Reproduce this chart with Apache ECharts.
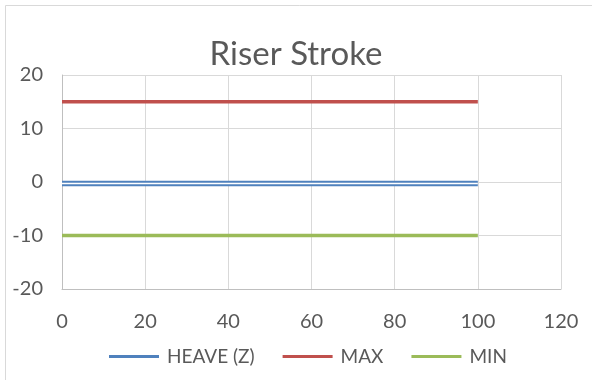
<!DOCTYPE html>
<html>
<head>
<meta charset="utf-8">
<script src="https://cdn.jsdelivr.net/npm/echarts@6/dist/echarts.min.js"></script>
<style>
  html, body { margin: 0; padding: 0; background: #fff; }
  #chart { width: 592px; height: 380px; }
</style>
</head>
<body>
<div id="chart"></div>
<script>
// Riser stroke: heave response against the allowed stroke limits
const xValues   = [0, 10, 20, 30, 40, 50, 60, 70, 80, 90, 100];
const heave     = [-0.3, -0.3, -0.3, -0.3, -0.3, -0.3, -0.3, -0.3, -0.3, -0.3, -0.3];
const maxStroke = [15, 15, 15, 15, 15, 15, 15, 15, 15, 15, 15];
const minStroke = [-10, -10, -10, -10, -10, -10, -10, -10, -10, -10, -10];
const seriesNames = ['HEAVE (Z)', 'MAX', 'MIN'];
const colors = ['#4F81BD', '#C0504D', '#9BBB59'];

const pairs = (ys) => xValues.map((x, i) => [x, ys[i]]);
const FONT = 'Lato, "Open Sans", sans-serif';
const TEXT = '#595959';

const chart = echarts.init(document.getElementById('chart'), null, { renderer: 'canvas' });

chart.setOption({
  animation: false,
  backgroundColor: '#ffffff',
  textStyle: { fontFamily: FONT },
  graphic: [{
    type: 'rect',
    shape: { x: 5.5, y: 5.5, width: 700, height: 500 },
    style: { fill: 'none', stroke: '#d9d9d9', lineWidth: 1 },
    silent: true,
    z: -10
  }],
  title: {
    text: 'Riser Stroke',
    left: 'center',
    top: 33,
    textStyle: { fontFamily: FONT, fontSize: 33, fontWeight: 'normal', color: TEXT }
  },
  legend: {
    data: seriesNames,
    left: 104,
    top: 342,
    icon: 'rect',
    itemWidth: 50,
    itemHeight: 3,
    itemGap: 28,
    textStyle: { fontFamily: FONT, fontSize: 19, color: TEXT, padding: [0, 0, 0, 3] }
  },
  grid: { left: 62, right: 31, top: 75, bottom: 91 },
  xAxis: [{
    type: 'value',
    min: 0, max: 120, interval: 20,
    axisLine: { show: false },
    axisTick: { show: false },
    axisLabel: { margin: 23, fontFamily: FONT, fontSize: 20, color: TEXT },
    splitLine: { show: true, lineStyle: { color: '#d9d9d9', width: 1 } }
  }, {
    // zero line of the horizontal axis
    type: 'value',
    min: 0, max: 120, interval: 20,
    position: 'bottom',
    axisLine: { show: true, onZero: true, lineStyle: { color: '#bfbfbf', width: 1 } },
    axisTick: { show: false },
    axisLabel: { show: false },
    splitLine: { show: false }
  }],
  yAxis: {
    type: 'value',
    min: -20, max: 20, interval: 10,
    axisLine: { show: true, lineStyle: { color: '#bfbfbf', width: 1 } },
    axisTick: { show: false },
    axisLabel: { margin: 19, fontFamily: FONT, fontSize: 20, color: TEXT },
    splitLine: { show: true, lineStyle: { color: '#d9d9d9', width: 1 } }
  },
  series: [
    {
      name: seriesNames[0], type: 'line', data: pairs(heave),
      showSymbol: false, symbol: 'none', color: colors[0],
      lineStyle: { color: colors[0], width: 5.5 }, z: 3
    },
    {
      // inner gap of the double heave stroke
      name: 'heave-gap', type: 'line', data: pairs(heave),
      showSymbol: false, symbol: 'none', color: '#ffffff',
      lineStyle: { color: '#ffffff', width: 1.5 }, z: 4, silent: true
    },
    {
      name: seriesNames[1], type: 'line', data: pairs(maxStroke),
      showSymbol: false, symbol: 'none', color: colors[1],
      lineStyle: { color: colors[1], width: 3.5 }, z: 3
    },
    {
      name: seriesNames[2], type: 'line', data: pairs(minStroke),
      showSymbol: false, symbol: 'none', color: colors[2],
      lineStyle: { color: colors[2], width: 3.5 }, z: 3
    }
  ]
});
</script>
</body>
</html>
